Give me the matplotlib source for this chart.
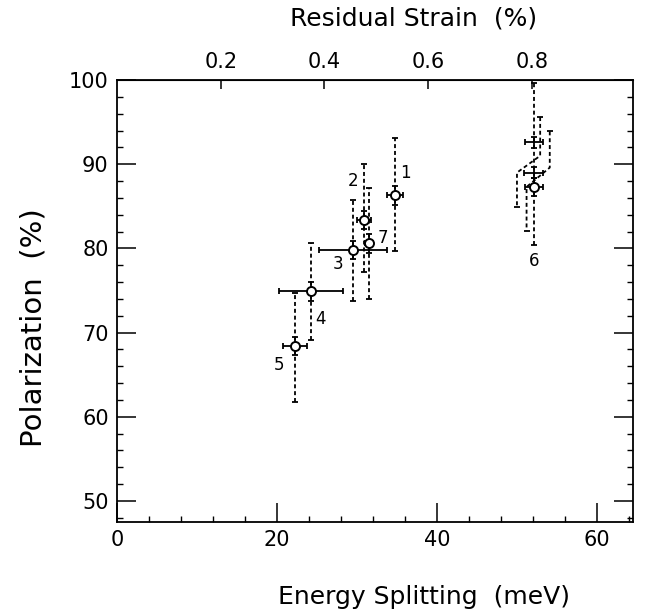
import numpy as np
import matplotlib
matplotlib.use("Agg")
import matplotlib.pyplot as plt
from matplotlib.ticker import MultipleLocator

plt.rcParams['font.family'] = ['DejaVu Sans']

# samples: label, energy splitting (meV), polarization (%)
labels = ['1', '2', '3', '4', '5', '7', '6']
energy = [34.7, 30.9, 29.5, 24.2, 22.2, 31.5, 52.1]
energy_err = [1.0, 0.9, 4.2, 4.0, 1.5, 0.5, 1.1]
pol = [86.3, 83.4, 79.8, 74.9, 68.4, 80.6, 87.3]
pol_lo = [79.7, 77.2, 73.8, 69.1, 61.7, 74.0, 80.4]
pol_hi = [93.1, 90.0, 85.8, 80.6, 74.7, 87.2, 99.6]
pol_inner = 1.1

# two extra crosses next to sample 6, their dotted bars are bent
cross_e = [52.1, 52.1]
cross_pol = [92.6, 89.0]
cross_err = [1.1, 1.2]
bar_top_e = [52.9, 54.1]
bar_bot_e = [50.0, 51.2]
bar_hi = [95.6, 93.9]
bar_knee_hi = [91.0, 89.6]
bar_knee_lo = [89.0, 87.3]
bar_lo = [84.9, 82.1]

strain_ticks = [0.2, 0.4, 0.6, 0.8]
mev_per_strain = 64.85

# label offsets in points
label_dx = [8, -8, -11, 7, -11, 10, 0]
label_dy = [16, 28, -10, -20, -14, 4, -53]

dots = (0, (2.2, 1.6))
lw = 1.3

fig = plt.figure(figsize=(6.52, 6.15), dpi=100)
ax = fig.add_axes([0.1794, 0.1512, 0.7914, 0.7187])

e = np.array(energy)
p = np.array(pol)
yerr = [p - np.array(pol_lo), np.array(pol_hi) - p]

eb = ax.errorbar(e, p, yerr=yerr, fmt='none', ecolor='k', elinewidth=lw,
                 capsize=2.5, capthick=lw)
eb[2][0].set_linestyle(dots)
ax.errorbar(e, p, xerr=energy_err, yerr=pol_inner, fmt='none', ecolor='k',
            elinewidth=lw, capsize=2.5, capthick=lw)

for i in range(len(cross_e)):
    ax.plot([bar_top_e[i], bar_top_e[i], bar_bot_e[i], bar_bot_e[i]],
            [bar_hi[i], bar_knee_hi[i], bar_knee_lo[i], bar_lo[i]],
            color='k', lw=lw, ls=dots)
    ax.plot([bar_top_e[i], bar_bot_e[i]], [bar_hi[i], bar_lo[i]],
            ls='none', marker='_', ms=5, mew=lw, color='k')
ax.errorbar(cross_e, cross_pol, xerr=cross_err, yerr=pol_inner * 0.6,
            fmt='none', ecolor='k', elinewidth=lw, capsize=2.5, capthick=lw)

ax.plot(e, p, ls='none', marker='o', ms=6.5, mfc='white', mec='k', mew=1.4,
        zorder=5)

for i, lab in enumerate(labels):
    ax.annotate(lab, (energy[i], pol[i]), xytext=(label_dx[i], label_dy[i]),
                textcoords='offset points', ha='center', va='center',
                fontsize=12)

ax.set_xlim(0, 64.5)
ax.set_ylim(47.5, 100)
ax.set_xticks([0, 20, 40, 60])
ax.set_yticks([50, 60, 70, 80, 90, 100])
ax.xaxis.set_minor_locator(MultipleLocator(4))
ax.yaxis.set_minor_locator(MultipleLocator(2))
ax.tick_params(which='major', direction='in', length=14, width=1.1,
               top=False, right=True, labelsize=15, pad=6)
ax.tick_params(which='minor', direction='in', length=4.5, width=1.0,
               top=False, right=True)
for s in ax.spines.values():
    s.set_linewidth(1.3)

ax.set_xlabel('Energy Splitting  (meV)', fontsize=18)
ax.xaxis.set_label_coords(0.595, -0.142)
ax.set_ylabel('Polarization  (%)', fontsize=21)
ax.yaxis.set_label_coords(-0.134, 0.44)

sec = ax.secondary_xaxis('top', functions=(lambda x: x / mev_per_strain,
                                           lambda s: s * mev_per_strain))
sec.set_xticks(strain_ticks)
sec.set_xticklabels([f'{t:.1f}' for t in strain_ticks])
sec.tick_params(direction='in', length=6.5, width=1.1, labelsize=15, pad=6)
sec.minorticks_off()
ax.text(0.574, 1.111, 'Residual Strain  (%)', transform=ax.transAxes,
        ha='center', va='bottom', fontsize=18)

fig.savefig('out.png', dpi=100)
